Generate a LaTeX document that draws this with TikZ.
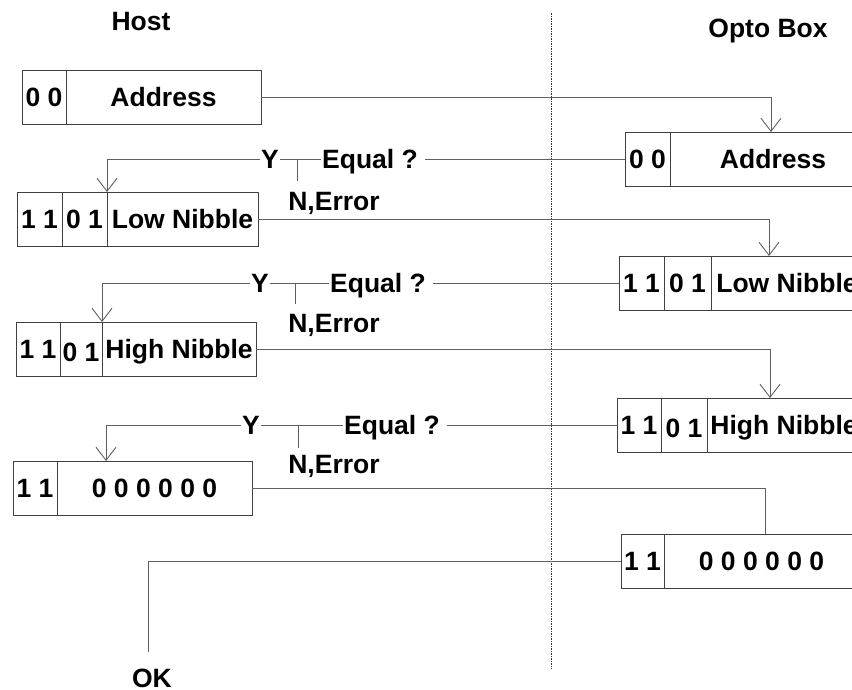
\documentclass[tikz,border=0pt]{standalone}
\usepackage{fontspec}
\setmainfont{Liberation Sans}
\usetikzlibrary{arrows.meta,positioning}
\definecolor{WireGray}{RGB}{95,95,95}

\tikzset{
	cell/.style={draw=black!75, line width=0.9pt, minimum height=54, inner sep=1pt,
		outer sep=0pt, text height=23, text depth=4, font=\fontsize{26.5}{31}\selectfont\bfseries},
	lbl/.style={inner sep=1pt, text height=23, text depth=4, font=\fontsize{26.5}{31}\selectfont\bfseries},
	wire/.style={WireGray, line width=0.9pt},
	flow/.style={wire, -{Straight Barb[length=13pt,width=20pt]}},
	sepline/.style={black!80, line width=0.9pt, dash pattern=on 2pt off 1pt on 1pt off 1pt}
}

\begin{document}
\begin{tikzpicture}[x=1pt, y=-1pt]
		\useasboundingbox (0,0) rectangle (852,690);
		\clip (0,0) rectangle (852,690);
		
		\node[lbl] (host) at (141,21.5) {Host};
		\node[lbl] (opto) at (768,28) {Opto Box};
		
		% host / opto box separator
		\coordinate (sepT) at (551,13);
		\coordinate (sepB) at (551,669);
		\draw[sepline] (sepT) -- (sepB);
		
		% host side frames
		\node[cell, minimum width=44, anchor=north west] (hA1) at (22,70) {0 0};
		\node[cell, minimum width=195, right=0pt of hA1] (hA2) {Address};
		
		\node[cell, minimum width=45, anchor=north west] (hB1) at (17,192) {1 1};
		\node[cell, minimum width=45, right=0pt of hB1] (hB2) {0 1};
		\node[cell, minimum width=151, right=0pt of hB2] (hB3) {Low Nibble};
		
		\node[cell, minimum width=44, anchor=north west] (hC1) at (16,322) {1 1};
		\node[cell, minimum width=42, right=0pt of hC1] (hC2) {\raisebox{-3pt}{0 1}};
		\node[cell, minimum width=154, right=0pt of hC2] (hC3) {High Nibble};
		
		\node[cell, minimum width=44, anchor=north west] (hD1) at (13,461) {1 1};
		\node[cell, minimum width=195, right=0pt of hD1] (hD2) {0 0 0 0 0 0};
		
		% opto box side frames (run off the right edge)
		\node[cell, minimum width=45, anchor=north west] (oA1) at (625,132) {0 0};
		\node[cell, minimum width=206, right=0pt of oA1] (oA2) {Address};
		
		\node[cell, minimum width=45, anchor=north west] (oB1) at (619,256) {1 1};
		\node[cell, minimum width=47, right=0pt of oB1] (oB2) {0 1};
		\node[cell, minimum width=152, right=0pt of oB2] (oB3) {Low Nibble};
		
		\node[cell, minimum width=44, anchor=north west] (oC1) at (617,398) {1 1};
		\node[cell, minimum width=46, right=0pt of oC1] (oC2) {\raisebox{-3pt}{0 1}};
		\node[cell, minimum width=154, right=0pt of oC2] (oC3) {High Nibble};
		
		\node[cell, minimum width=43, anchor=north west] (oD1) at (621,534) {1 1};
		\node[cell, minimum width=195, right=0pt of oD1] (oD2) {0 0 0 0 0 0};
		
		% compare steps
		\node[lbl] (y1) at (270,159) {Y};
		\node[lbl] (eq1) at (370,159) {Equal ?};
		\node[lbl] (n1) at (334,201) {N,Error};
		\coordinate (t1) at (297,159);
		\coordinate (t1b) at (297,181);
		
		\node[lbl] (y2) at (260,283) {Y};
		\node[lbl] (eq2) at (378,283) {Equal ?};
		\node[lbl] (n2) at (334,323) {N,Error};
		\coordinate (t2) at (295,283);
		\coordinate (t2b) at (295,304);
		
		\node[lbl] (y3) at (251,425) {Y};
		\node[lbl] (eq3) at (392,425) {Equal ?};
		\node[lbl] (n3) at (334,464) {N,Error};
		\coordinate (t3) at (298,425);
		\coordinate (t3b) at (298,448);
		
		\node[lbl, text depth=0, inner sep=0pt] (ok) at (152,676) {OK};
		
		% host -> opto box
		\draw[flow] (hA2.east) -| ([xshift=-2]oA2.north);
		\draw[flow] (hB3.east) -| ([xshift=-18]oB3.north);
		\draw[flow] (hC3.east) -| ([xshift=-14]oC3.north);
		\draw[wire] (hD2.east) -| ([xshift=4]oD2.north);
		
		% echo back and compare
		\draw[wire] ([xshift=6]eq1.east) -- (oA1.west);
		\draw[wire] (y1.east) -- (eq1.west);
		\draw[wire] (t1) -- (t1b);
		\draw[flow] (y1.west) -| (hB2.north east);
		
		\draw[wire] ([xshift=6]eq2.east) -- (oB1.west);
		\draw[wire] (y2.east) -- (eq2.west);
		\draw[wire] (t2) -- (t2b);
		\draw[flow] (y2.west) -| (hC2.north east);
		
		\draw[wire] ([xshift=6]eq3.east) -- (oC1.west);
		\draw[wire] (y3.east) -- (eq3.west);
		\draw[wire] (t3) -- (t3b);
		\draw[flow] (y3.west) -| ([xshift=49]hD1.north east);
		
		\draw[wire] (oD1.west) -| ([xshift=-4, yshift=12]ok.north);
	\end{tikzpicture}
\end{document}
